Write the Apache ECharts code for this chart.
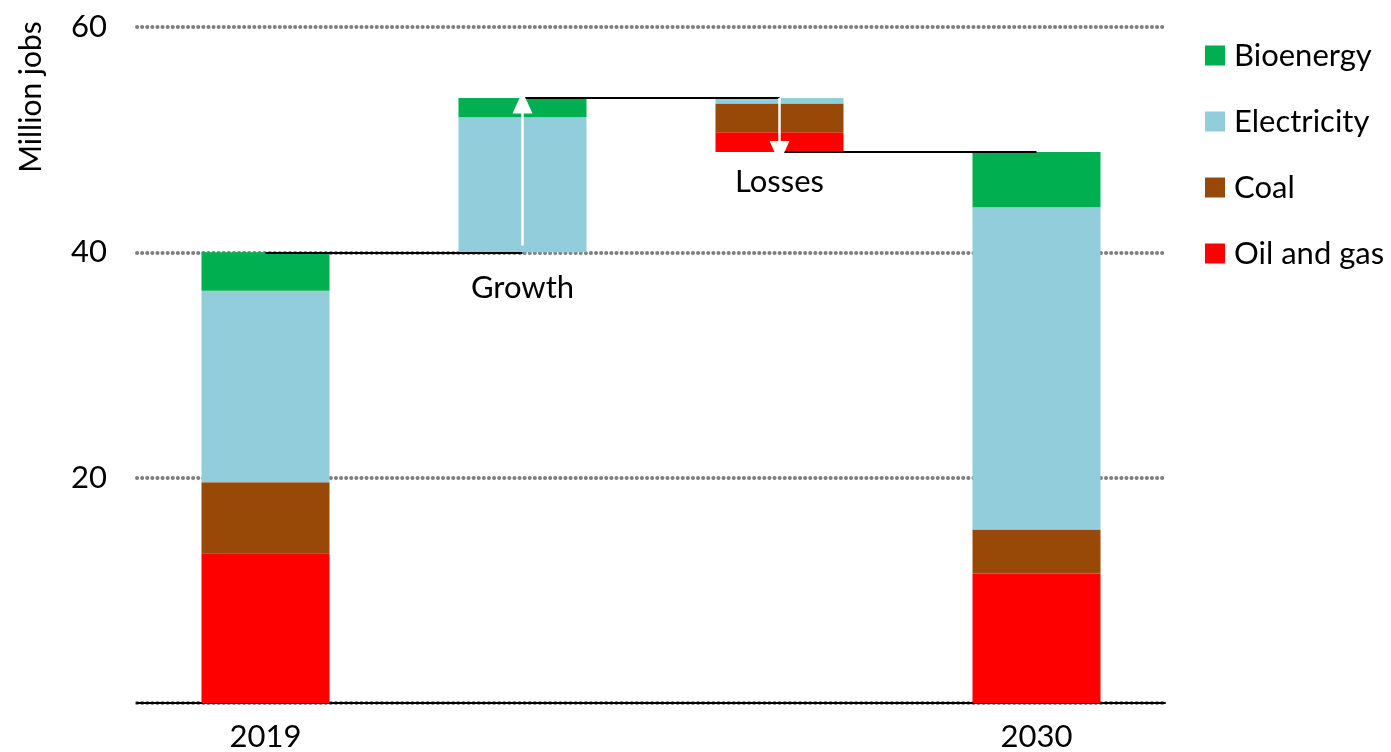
<!DOCTYPE html>
<html>
<head>
<meta charset="utf-8">
<script src="https://cdn.jsdelivr.net/npm/echarts@6/dist/echarts.min.js"></script>
<style>
  html, body { margin: 0; padding: 0; background: #fff; }
  #chart { width: 1391px; height: 752px; }
</style>
</head>
<body>
<div id="chart"></div>
<script>
// categories on the x axis (middle two are the waterfall steps)
const categories = ['2019', 'Growth', 'Losses', '2030']
const axisLabels = ['2019', '', '', '2030']
const stepLabels = ['', 'Growth', 'Losses', '']

// invisible base under each bar
const baseValues = [0, 40, 48.9, 0]
// stacked pieces, bottom to top
const oilGas = [13.3, 0, 1.75, 11.5]
const coal = [6.3, 0, 2.55, 3.9]
const electricity = [17.0, 12.0, 0.5, 28.6]
const bioenergy = [3.4, 1.7, 0, 4.9]

// levels used for the connector lines and arrows
const start2019 = 40
const peak = 53.7
const end2030 = 48.9

const yTicks = [0, 20, 40, 60]

const colors = {
  'Oil and gas': '#ff0000',
  'Coal': '#984807',
  'Electricity': '#92cddc',
  'Bioenergy': '#00b050'
}

const font = 'Lato, "Open Sans", sans-serif'
const fs = 31
const chart = echarts.init(document.getElementById('chart'))

function stackSeries(name, values) {
  return {
    name: name,
    type: 'bar',
    stack: 'jobs',
    barWidth: 128,
    itemStyle: { color: colors[name] },
    emphasis: { disabled: true },
    data: values.map(v => (v === 0 ? '-' : v))
  }
}

const option = {
  animation: false,
  textStyle: { fontFamily: font },
  grid: { left: 137, right: 226, top: 27, bottom: 47 },
  legend: {
    data: ['Bioenergy', 'Electricity', 'Coal', 'Oil and gas'],
    orient: 'vertical',
    left: 1200,
    top: 35,
    icon: 'rect',
    itemWidth: 20,
    itemHeight: 20,
    itemGap: 35,
    selectedMode: false,
    textStyle: { fontSize: fs, color: '#000', fontFamily: font, padding: [0, 0, 0, 4] }
  },
  graphic: [{
    type: 'text',
    x: 31,
    y: 97,
    rotation: Math.PI / 2,
    style: {
      text: 'Million jobs',
      fontSize: 30,
      fontFamily: font,
      fill: '#000',
      align: 'center',
      verticalAlign: 'middle'
    }
  }],
  xAxis: {
    type: 'category',
    data: categories,
    axisLine: { lineStyle: { color: '#000', width: 2 } },
    axisTick: { show: false },
    axisLabel: {
      margin: 18,
      fontSize: fs,
      color: '#000',
      fontFamily: font,
      formatter: (v, i) => axisLabels[i]
    }
  },
  yAxis: {
    type: 'value',
    min: yTicks[0],
    max: yTicks[yTicks.length - 1],
    interval: 20,
    axisLine: { show: false },
    axisTick: { show: false },
    axisLabel: {
      margin: 30,
      fontSize: fs,
      color: '#000',
      fontFamily: font,
      formatter: v => (v === 0 ? '' : v)
    },
    splitLine: {
      lineStyle: { color: '#7f7f7f', width: 4, type: [0.1, 5], cap: 'round' }
    }
  },
  series: [
    {
      name: 'base',
      type: 'bar',
      stack: 'jobs',
      barWidth: 128,
      itemStyle: { color: 'rgba(0,0,0,0)' },
      emphasis: { disabled: true },
      silent: true,
      data: baseValues.map((v, i) => ({
        value: v,
        label: {
          show: stepLabels[i] !== '',
          formatter: stepLabels[i],
          position: 'insideTop',
          distance: i === 1 ? 20 : 14,
          fontSize: fs,
          color: '#000',
          fontFamily: font
        }
      }))
    },
    stackSeries('Oil and gas', oilGas),
    stackSeries('Coal', coal),
    stackSeries('Electricity', electricity),
    stackSeries('Bioenergy', bioenergy),
    {
      name: 'connectors',
      type: 'line',
      z: 5,
      data: [],
      silent: true,
      markLine: {
        silent: true,
        symbol: ['none', 'none'],
        label: { show: false },
        lineStyle: { color: '#000', width: 2, type: 'solid' },
        emphasis: { disabled: true },
        data: [
          [{ coord: ['2019', start2019] }, { coord: ['Growth', start2019] }],
          [{ coord: ['Growth', peak] }, { coord: ['Losses', peak] }],
          [{ coord: ['Losses', end2030] }, { coord: ['2030', end2030] }]
        ]
      }
    },
    {
      name: 'arrows',
      type: 'line',
      z: 6,
      data: [],
      silent: true,
      markLine: {
        silent: true,
        symbol: ['none', 'triangle'],
        symbolSize: [20, 22],
        label: { show: false },
        lineStyle: { color: '#fff', width: 2.5, type: 'solid', opacity: 1 },
        itemStyle: { color: '#fff' },
        emphasis: { disabled: true },
        data: [
          [{ coord: ['Growth', start2019 + 0.6] }, { coord: ['Growth', peak - 0.4] }],
          [{ coord: ['Losses', peak] }, { coord: ['Losses', end2030] }]
        ]
      }
    }
  ]
}

chart.setOption(option)
</script>
</body>
</html>
